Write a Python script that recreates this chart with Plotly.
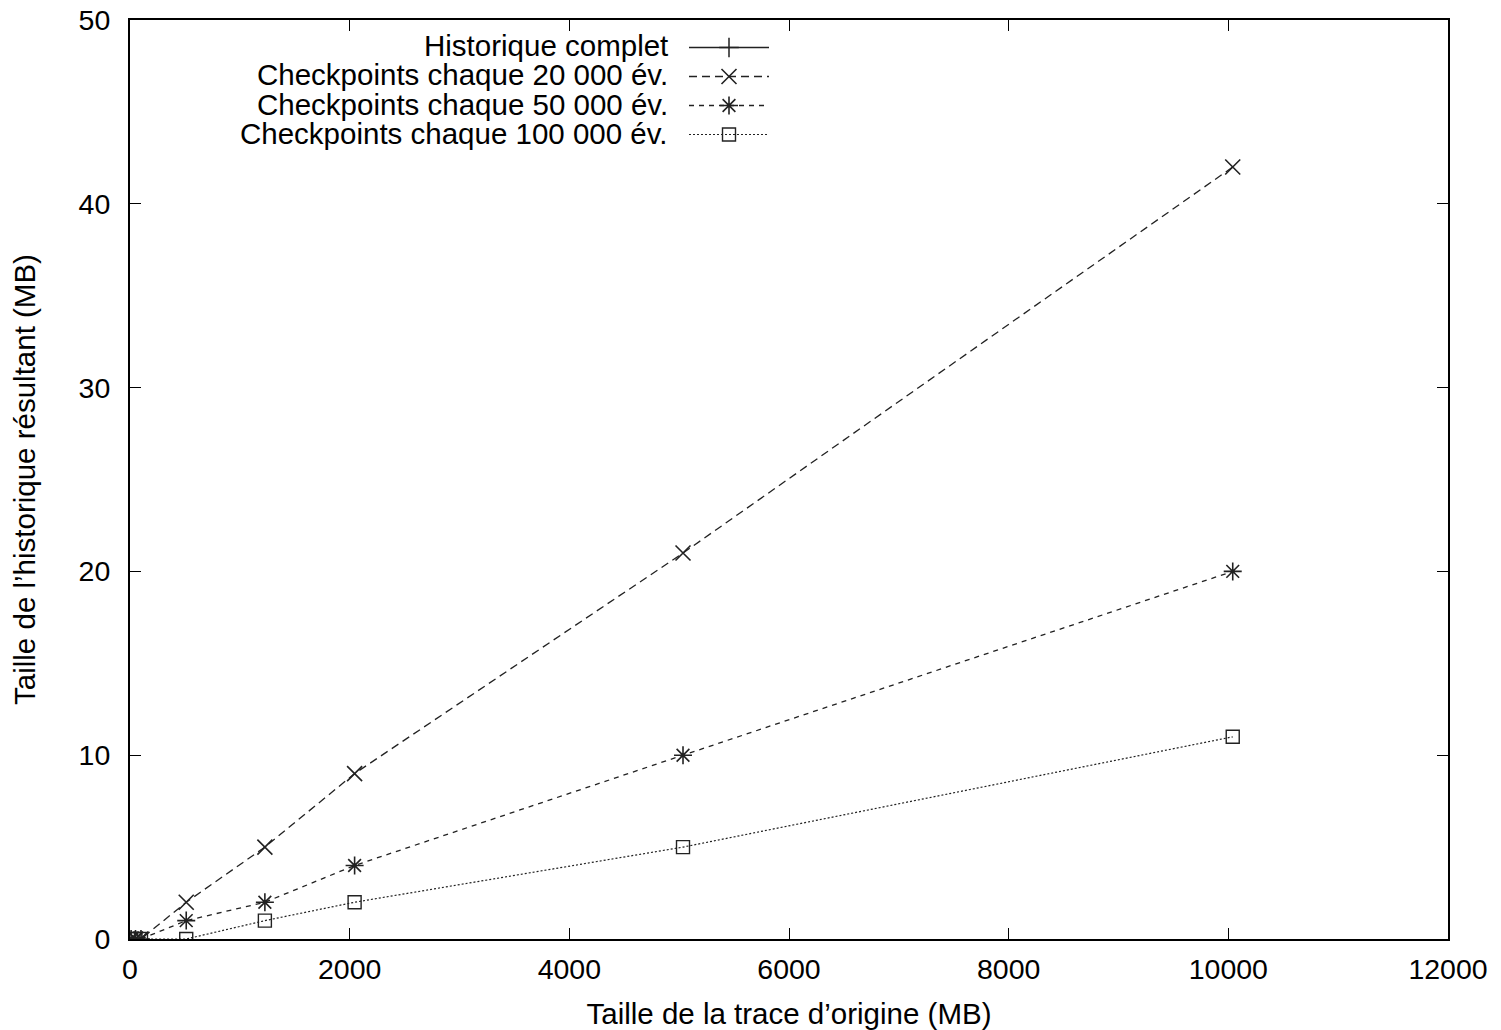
import plotly.graph_objects as go

# Data
x_trace = [10, 50, 100, 512, 1228, 2045, 5035, 10040]
hist_x = [512, 1228, 2045, 5035, 10040]
hist_y = [512, 1228, 2045, 5035, 10040]  # full history ~ trace size (off chart)
cp20k = [0, 0, 0, 2, 5, 9, 21, 42]
cp50k = [0, 0, 0, 1, 2, 4, 10, 20]
cp100k = [0, 0, 0, 0, 1, 2, 5, 11]

names = ["Historique complet", "Checkpoints chaque 20 000 év.",
         "Checkpoints chaque 50 000 év.", "Checkpoints chaque 100 000 év."]

x_ticks = [0, 2000, 4000, 6000, 8000, 10000, 12000]
y_ticks = [0, 10, 20, 30, 40, 50]

FONT = "Liberation Sans, Arial, Helvetica, sans-serif"
LC = "#222222"

fig = go.Figure()
fig.add_trace(go.Scatter(x=hist_x, y=hist_y, mode="lines+markers", name=" ",
                         line=dict(color=LC, width=1.3),
                         marker=dict(symbol="cross-thin-open", size=14, line=dict(color=LC, width=1.5))))
fig.add_trace(go.Scatter(x=x_trace, y=cp20k, mode="lines+markers", name=" ",
                         line=dict(color=LC, width=1.3, dash="8px,5px"),
                         marker=dict(symbol="x-thin-open", size=15, line=dict(color=LC, width=1.6))))
fig.add_trace(go.Scatter(x=x_trace, y=cp50k, mode="lines+markers", name=" ",
                         line=dict(color=LC, width=1.3, dash="5px,5px"),
                         marker=dict(symbol="asterisk-open", size=15, line=dict(color=LC, width=1.6))))
fig.add_trace(go.Scatter(x=x_trace, y=cp100k, mode="lines+markers", name=" ",
                         line=dict(color=LC, width=1.2, dash="2px,2px"),
                         marker=dict(symbol="square-open", size=13, line=dict(color=LC, width=1.4))))

axis_common = dict(showline=True, linecolor="black", linewidth=2, mirror="allticks",
                   ticks="inside", ticklen=11, tickwidth=1.3, tickcolor="black",
                   showgrid=False, zeroline=False, automargin=False,
                   tickfont=dict(family=FONT, size=28.5, color="black"))

fig.update_xaxes(range=[0, 12000], tickvals=x_ticks, ticktext=[str(v) for v in x_ticks],
                 ticklabelstandoff=4,
                 title=dict(text="Taille de la trace d’origine (MB)", font=dict(family=FONT, size=29.5, color="black"),
                            standoff=24),
                 **axis_common)
fig.update_yaxes(range=[0, 50], tickvals=y_ticks, ticktext=[str(v) for v in y_ticks],
                 ticklabelstandoff=12,
                 title=dict(text="Taille de l’historique résultant (MB)", font=dict(family=FONT, size=29.5, color="black"),
                            standoff=34),
                 **axis_common)

# legend text (right-aligned, symbol to the right)
PH = 919
PW = 1318
legend_y_px = [25, 55, 84, 113]
annots = []
for n, py in zip(names, legend_y_px):
    annots.append(dict(text=n, xref="paper", yref="paper",
                       x=540 / PW, y=(PH - py) / PH,
                       xanchor="right", yanchor="middle", showarrow=False,
                       font=dict(family=FONT, size=29.5, color="black")))

fig.update_layout(
    width=1501, height=1030,
    margin=dict(l=130, r=53, t=20, b=91),
    plot_bgcolor="white", paper_bgcolor="white",
    annotations=annots,
    legend=dict(x=554 / PW, y=(PH - 8) / PH, xanchor="left", yanchor="top",
                bgcolor="rgba(0,0,0,0)", itemwidth=80, tracegroupgap=0,
                font=dict(family=FONT, size=20, color="black"), itemclick=False),
    showlegend=True,
)

fig.write_html("out.html", config={"displayModeBar": False},
               post_script="document.body.style.margin='0';document.body.style.overflow='hidden';")
